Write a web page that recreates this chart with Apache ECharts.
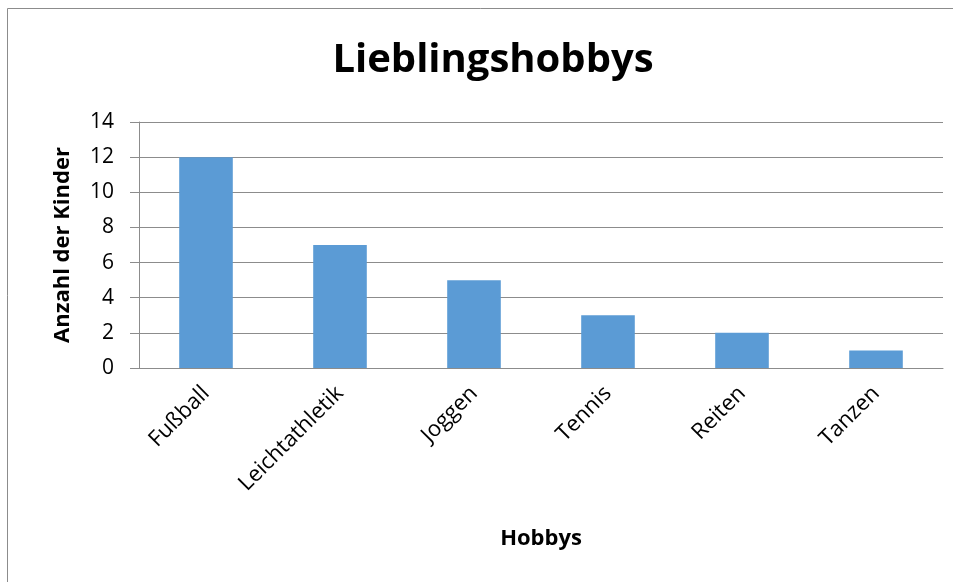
<!DOCTYPE html>
<html><head><meta charset="utf-8">
<script src="https://cdn.jsdelivr.net/npm/echarts@6/dist/echarts.min.js"></script>
<style>html,body{margin:0;padding:0;background:#fff}#c{width:953px;height:582px}</style>
</head><body><div id="c"></div>
<script>
const categories = ['Fußball','Leichtathletik','Joggen','Tennis','Reiten','Tanzen'];
const values = [12, 7, 5, 3, 2, 1];
const yTicks = {min: 0, max: 14, interval: 2};
const chart = echarts.init(document.getElementById('c'));
const font = '"Open Sans", "Liberation Sans", sans-serif';
chart.setOption({
  animation: false,
  backgroundColor: '#fff',
  graphic: [
    {type: 'line', shape: {x1: 7.5, y1: 8.5, x2: 953, y2: 8.5}, style: {stroke: '#8c8c8c', lineWidth: 1}},
    {type: 'line', shape: {x1: 7.5, y1: 8.5, x2: 7.5, y2: 582}, style: {stroke: '#8c8c8c', lineWidth: 1}}
  ],
  title: {
    text: 'Lieblingshobbys', left: 488, top: 36, textAlign: 'center',
    textStyle: {fontFamily: font, fontWeight: 'bold', fontSize: 40, color: '#000'}
  },
  grid: {left: 139, right: 10, top: 122, bottom: 214, containLabel: false},
  xAxis: {
    type: 'category', data: categories,
    name: 'Hobbys', nameLocation: 'middle', nameGap: 160,
    nameTextStyle: {fontFamily: font, fontWeight: 'bold', fontSize: 22, color: '#000'},
    axisLine: {lineStyle: {color: '#8c8c8c'}},
    axisTick: {show: false},
    axisLabel: {rotate: 45, fontFamily: font, fontSize: 22, color: '#000', margin: 22, interval: 0}
  },
  yAxis: {
    type: 'value', min: yTicks.min, max: yTicks.max, interval: yTicks.interval,
    name: 'Anzahl der Kinder', nameLocation: 'middle', nameGap: 65, nameRotate: 90,
    nameTextStyle: {fontFamily: font, fontWeight: 'bold', fontSize: 22, color: '#000'},
    axisLine: {show: true, lineStyle: {color: '#8c8c8c'}},
    axisTick: {show: true, length: 9, lineStyle: {color: '#8c8c8c'}},
    splitLine: {lineStyle: {color: '#8c8c8c'}},
    axisLabel: {fontFamily: font, fontSize: 21, color: '#000', margin: 25}
  },
  series: [{type: 'bar', data: values, barWidth: '40%', itemStyle: {color: '#5B9BD5'}}]
});
</script></body></html>
